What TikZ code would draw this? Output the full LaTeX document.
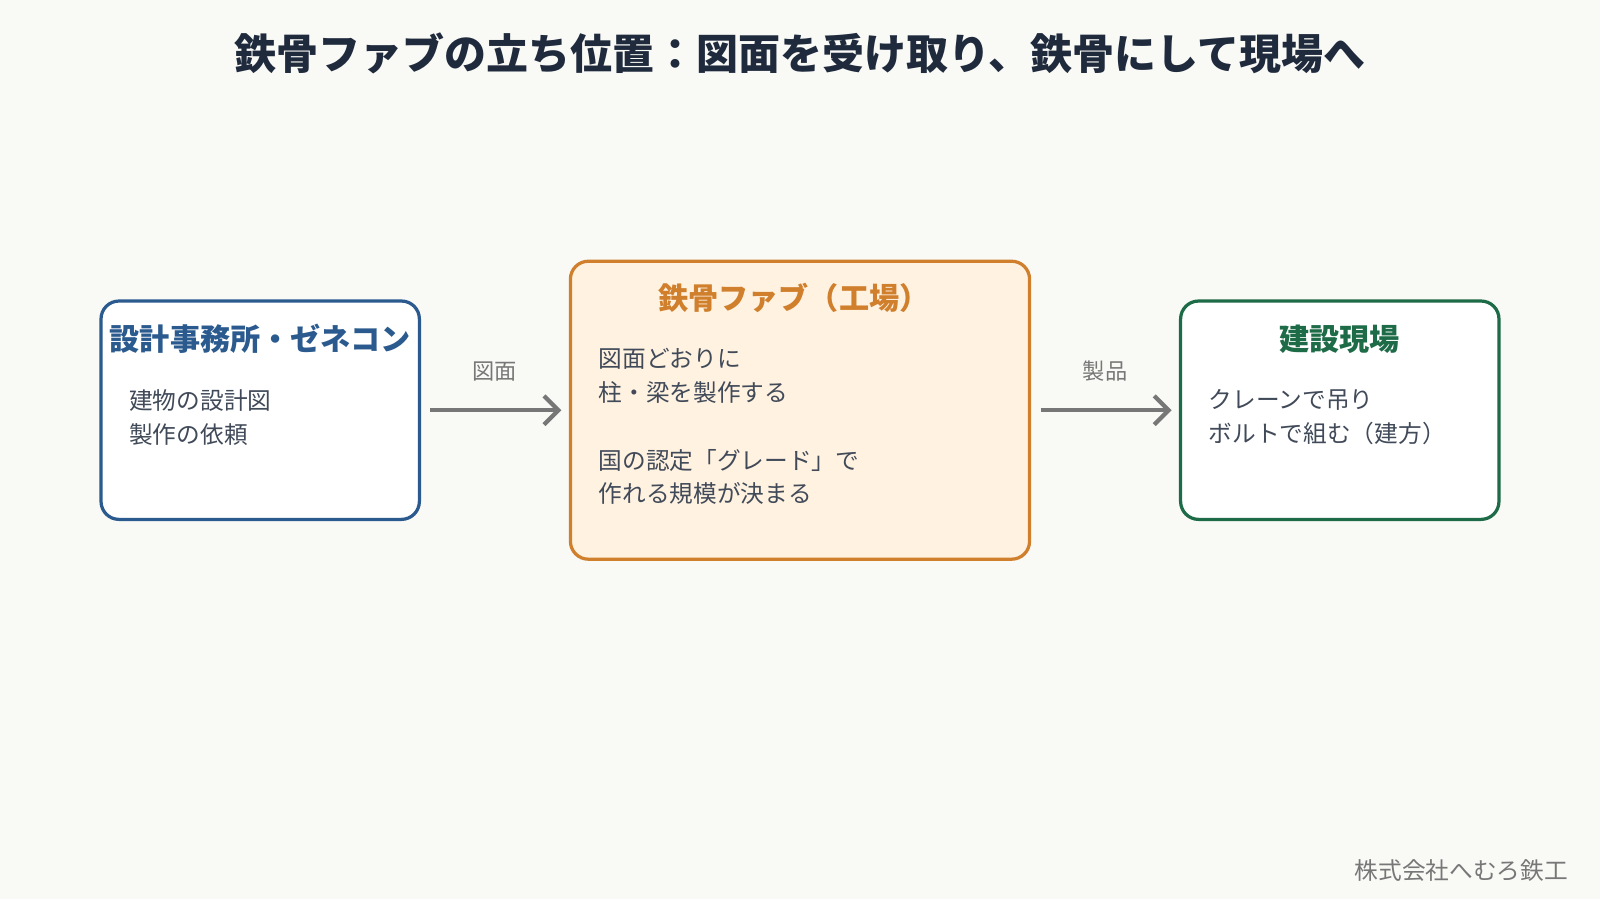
\documentclass[tikz,border=0pt]{standalone}
\usepackage{fontspec}
\setmainfont{Noto Sans CJK JP}
\usetikzlibrary{positioning,arrows.meta}
\definecolor{bgcol}{HTML}{F9F9F6}
\definecolor{inkcol}{HTML}{1F2A3C}
\definecolor{bluecol}{HTML}{2B5A8E}
\definecolor{orangecol}{HTML}{D07F2C}
\definecolor{orangefill}{HTML}{FFF2E0}
\definecolor{greencol}{HTML}{1E6B48}
\definecolor{graycol}{HTML}{777777}
\begin{document}
\begin{tikzpicture}[x=0.01cm, y=-0.01cm,
    box/.style={draw, line width=0.9pt, rounded corners=5pt, fill=white, inner sep=0pt},
    head/.style={font=\fontsize{8.4}{10}\selectfont\bfseries},
    body/.style={font=\fontsize{6.6}{9.4}\selectfont, text=inkcol!85, align=left, anchor=north west, inner sep=0pt},
    flow/.style={draw=graycol, line width=1.2pt, ->, >={Straight Barb[length=4pt,width=8pt]}, shorten <=0.1cm, shorten >=0.08cm},
    flowlabel/.style={font=\fontsize{6.2}{7}\selectfont, text=graycol}]
    \fill[bgcol] (0,0) rectangle (1568,881);

    \node (title) at (784,52) [font=\fontsize{11.7}{14}\selectfont\bfseries, text=inkcol] {鉄骨ファブの立ち位置：図面を受け取り、鉄骨にして現場へ};

    % design office
    \draw[box, draw=bluecol] (99,295) rectangle (411,509);
    \node (office) at (255,402) [minimum width=3.12cm, minimum height=2.14cm] {};
    \node (officehead) at (255,332) [head, text=bluecol] {設計事務所・ゼネコン};
    \node (officebody) at (126,381) [body] {建物の設計図\\製作の依頼};

    % fabricator
    \draw[box, draw=orangecol, fill=orangefill] (559,256) rectangle (1009,548);
    \node (fab) at (784,402) [minimum width=4.5cm, minimum height=2.92cm] {};
    \node (fabhead) at (778,292) [head, text=orangecol] {鉄骨ファブ（工場）};
    \node (fabbody) at (586,341) [body] {図面どおりに\\柱・梁を製作する\\[9.4pt]国の認定「グレード」で\\作れる規模が決まる};

    % site
    \draw[box, draw=greencol] (1157,295) rectangle (1469,509);
    \node (site) at (1313,402) [minimum width=3.12cm, minimum height=2.14cm] {};
    \node (sitehead) at (1313,332) [head, text=greencol] {建設現場};
    \node (sitebody) at (1184,381) [body] {クレーンで吊り\\ボルトで組む（建方）};

    \draw[flow] (office) -- node[flowlabel, above=4pt] {図面} (fab);
    \draw[flow] (fab) -- node[flowlabel, above=4pt] {製品} (site);

    \node (footer) at (1432,853) [font=\fontsize{6.6}{8}\selectfont, text=graycol] {株式会社へむろ鉄工};
\end{tikzpicture}
\end{document}
